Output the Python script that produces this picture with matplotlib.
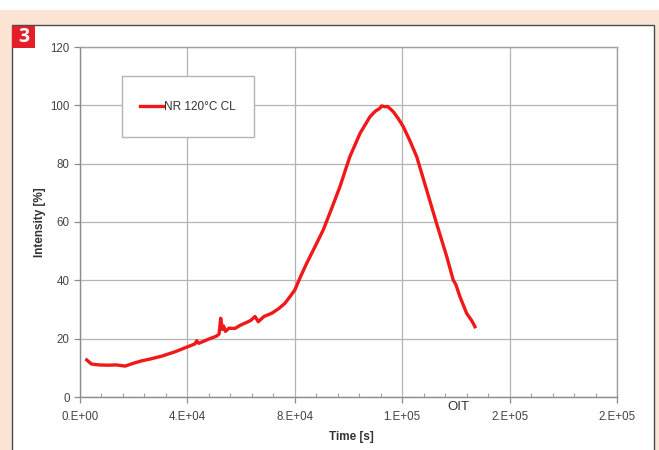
import matplotlib
matplotlib.use("Agg")
import matplotlib.pyplot as plt
from matplotlib.patches import Rectangle
from matplotlib.ticker import MultipleLocator

plt.rcParams['font.family'] = ['Liberation Sans', 'DejaVu Sans']

# data
time_s = [2500, 4300, 7000, 10400, 13500, 16800, 20000, 23000, 26500, 30400,
          35400, 40300, 42800, 43500, 44200, 47800, 50900, 51800, 52400, 53000,
          53500, 54200, 55500, 57700, 59500, 61400, 63500, 65200, 66400, 68500,
          71400, 74000, 76300, 78200, 80000, 82000, 84400, 87500, 90600, 93700,
          96800, 100500, 104300, 108000, 110000, 111700, 112300, 113600, 114600, 116700,
          118500, 120400, 122900, 125400, 129100, 132800, 136600, 139000, 140000, 141500,
          144000, 146000, 147100]
intensity = [12.7, 11.3, 11.0, 10.9, 11.0, 10.6, 11.6, 12.4, 13.1, 14.0,
             15.5, 17.3, 18.2, 19.3, 18.4, 19.8, 20.9, 21.6, 27.0, 23.2,
             24.3, 22.5, 23.6, 23.5, 24.5, 25.3, 26.2, 27.6, 25.8, 27.6,
             28.7, 30.3, 32.1, 34.4, 36.7, 41.0, 45.8, 51.5, 57.3, 64.6,
             72.1, 82.4, 90.4, 96.1, 98.0, 99.0, 99.8, 99.5, 99.6, 97.8,
             95.5, 92.7, 87.8, 82.4, 71.0, 59.5, 48.1, 40.1, 38.5, 34.4,
             28.7, 26.0, 24.1]
xticks = [0, 40000, 80000, 120000, 160000, 200000]
xtick_labels = ['0.E+00', '4.E+04', '8.E+04', '1.E+05', '2.E+05', '2.E+05']
yticks = [0, 20, 40, 60, 80, 100, 120]
series_name = 'NR 120°C CL'

W, H = 659, 450
fig = plt.figure(figsize=(W / 100, H / 100), dpi=100)
fig.patch.set_facecolor('white')


def fr(x0, y0, x1, y1):
    # pixel box (top-left origin) -> figure fraction rect
    return (x0 / W, 1 - y1 / H), (x1 - x0) / W, (y1 - y0) / H


beige = '#fce4d4'
xy, w, h = fr(0, 10, 659, 450)
fig.add_artist(Rectangle(xy, w, h, transform=fig.transFigure, facecolor=beige, edgecolor='none', zorder=0))
xy, w, h = fr(12, 25, 654, 452)
fig.add_artist(Rectangle(xy, w, h, transform=fig.transFigure, facecolor='white', edgecolor='#4a4a4a', lw=1.0, zorder=1))
xy, w, h = fr(12, 26, 35, 48)
fig.add_artist(Rectangle(xy, w, h, transform=fig.transFigure, facecolor='#e3202a', edgecolor='none', zorder=2))
fig.text(23.5 / W, 1 - 37.5 / H, '3', color='white', fontsize=14, fontweight='bold',
         ha='center', va='center', family=['Open Sans', 'DejaVu Sans'], zorder=3)

ax = fig.add_axes([80 / W, 53 / H, 537 / W, 350 / H])
ax.set_facecolor('white')
ax.set_zorder(2)

ax.plot(time_s, intensity, color='#f01818', lw=2.4, label=series_name, solid_joinstyle='round')

ax.set_xlim(0, 200000)
ax.set_ylim(0, 120)
ax.set_xticks(xticks)
ax.set_xticklabels(xtick_labels)
ax.set_yticks(yticks)
ax.xaxis.set_minor_locator(MultipleLocator(8000))
ax.grid(True, which='major', color='#b4b4b4', lw=0.9)
ax.set_axisbelow(True)
for s in ax.spines.values():
    s.set_color('#a0a0a0')
    s.set_linewidth(1.0)
ax.spines['left'].set_color('#8c8c8c')
ax.spines['bottom'].set_color('#8c8c8c')
ax.tick_params(axis='both', which='major', labelsize=8.3, colors='#8c8c8c', labelcolor='#444444', length=4, width=0.9)
ax.tick_params(axis='x', which='minor', direction='in', length=3, color='#a0a0a0', width=0.8)
ax.tick_params(axis='x', pad=6)

ax.set_xlabel('Time [s]', fontsize=8.5, fontweight='bold', color='#333333', va='center')
ax.xaxis.set_label_coords((351 - 80) / 537, (397 - 437) / 350)
ax.set_ylabel('Intensity [%]', fontsize=8.5, fontweight='bold', color='#333333', va='center')
ax.yaxis.set_label_coords((40 - 80) / 537, 0.5)

oit = fig.text(458 / W, 1 - 407 / H, 'OIT', fontsize=9.5, color='#333333', ha='center', va='center', zorder=4)

# legend box
xy, w, h = fr(122, 76, 254, 137)
ax.add_patch(Rectangle(xy, w, h, transform=fig.transFigure, facecolor='white', edgecolor='#b4b4b4',
                       lw=1.0, zorder=5, clip_on=False))
leg = ax.legend(loc='center', bbox_to_anchor=(188 / W, 1 - 107 / H), bbox_transform=fig.transFigure,
                frameon=False, fontsize=8.5, handlelength=1.9, handletextpad=0.1, borderpad=0)
leg.set_zorder(6)
for t in leg.get_texts():
    t.set_color('#333333')

fig.savefig('out.png', dpi=100)
